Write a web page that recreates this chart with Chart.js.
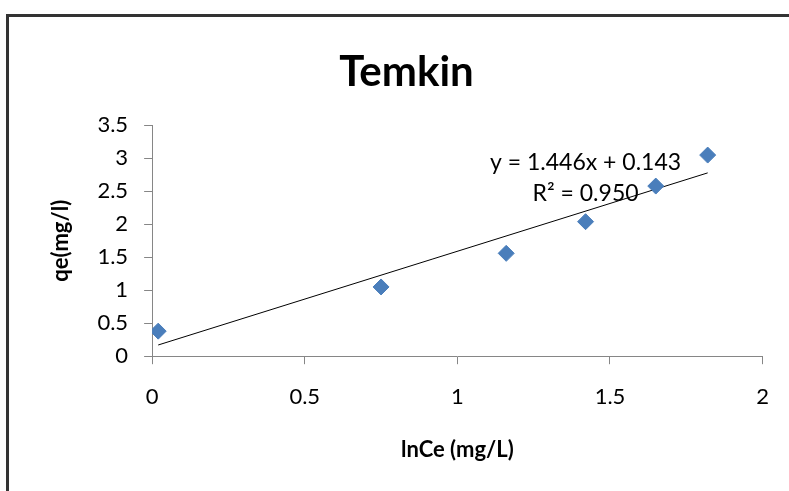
<!DOCTYPE html>
<html>
<head>
<meta charset="utf-8">
<script src="https://cdn.jsdelivr.net/npm/chart.js@4/dist/chart.umd.min.js"></script>
<style>
  html, body { margin: 0; padding: 0; background: #fff; }
  #wrap { position: relative; width: 789px; height: 491px; }
  #frame { position: absolute; left: 6px; top: 14px; right: -4px; bottom: -4px; border-left: 3px solid #333; border-top: 3px solid #333; }
  canvas { position: absolute; left: 0; top: 0; }
</style>
</head>
<body>
<div id="wrap">
  <div id="frame"></div>
  <canvas id="myChart" width="789" height="491"></canvas>
</div>
<script>
const lnCe = [0.02, 0.75, 1.16, 1.42, 1.65, 1.82]
const qe = [0.38, 1.05, 1.56, 2.04, 2.58, 3.05]
const trendX = [0.02, 1.82]
const trendY = [0.17, 2.78]
const xTicks = [0, 0.5, 1, 1.5, 2]
const yTicks = [0, 0.5, 1, 1.5, 2, 2.5, 3, 3.5]
const eqLines = ['y = 1.446x + 0.143', 'R² = 0.950']

const font = 'Lato, "Open Sans", sans-serif'

// trendline equation text
const eqLabel = {
  id: 'eqLabel',
  afterDatasetsDraw(chart) {
    const { ctx, scales } = chart
    const cx = scales.x.getPixelForValue(1.42)
    const cy = scales.y.getPixelForValue(2.94)
    ctx.save()
    ctx.fillStyle = '#000'
    ctx.font = '23px ' + font
    ctx.textAlign = 'center'
    ctx.textBaseline = 'middle'
    ctx.fillText(eqLines[0], cx, cy)
    ctx.fillText(eqLines[1], cx, cy + 31)
    ctx.restore()
  }
}

;(() => {
  'use strict'
  const ctx = document.getElementById('myChart')

  var myChart = new Chart(ctx, {
    type: 'scatter',
    data: {
      datasets: [
        {
          data: lnCe.map((x, i) => ({ x: x, y: qe[i] })),
          pointStyle: 'rectRot',
          radius: 8,
          backgroundColor: '#4A7EBB',
          borderColor: '#4A7EBB',
          borderWidth: 1
        },
        {
          data: trendX.map((x, i) => ({ x: x, y: trendY[i] })),
          showLine: true,
          borderColor: '#000',
          borderWidth: 1,
          pointRadius: 0
        }
      ]
    },
    options: {
      responsive: false,
      animation: false,
      layout: { padding: { left: 44, right: 20, top: 0, bottom: 24 } },
      plugins: {
        legend: { display: false },
        tooltip: { enabled: false },
        title: {
          display: true,
          text: 'Temkin',
          color: '#000',
          font: { family: font, size: 42, weight: 'bold' },
          padding: { top: 47, bottom: 28 }
        }
      },
      scales: {
        x: {
          type: 'linear',
          min: 0,
          max: 2,
          afterBuildTicks: axis => { axis.ticks = xTicks.map(v => ({ value: v })) },
          grid: { drawOnChartArea: false, tickLength: 8, color: '#868686' },
          border: { color: '#868686' },
          ticks: { color: '#000', font: { family: font, size: 22 }, padding: 20, callback: v => String(v) },
          title: {
            display: true,
            text: 'lnCe (mg/L)',
            color: '#000',
            font: { family: font, size: 22, weight: 'bold' },
            padding: { top: 6 }
          }
        },
        y: {
          min: 0,
          max: 3.5,
          afterBuildTicks: axis => { axis.ticks = yTicks.map(v => ({ value: v })) },
          grid: { drawOnChartArea: false, tickLength: 8, color: '#868686' },
          border: { color: '#868686' },
          ticks: { color: '#000', font: { family: font, size: 22 }, padding: 16, callback: v => String(v) },
          title: {
            display: true,
            text: 'qe(mg/l)',
            color: '#000',
            font: { family: font, size: 22, weight: 'bold' },
            padding: { bottom: 7 }
          }
        }
      }
    },
    plugins: [eqLabel]
  })
})()
</script>
</body>
</html>
